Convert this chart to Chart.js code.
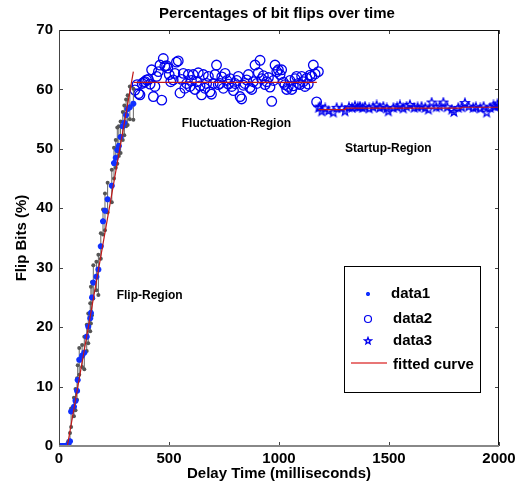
<!DOCTYPE html>
<html>
<head>
<meta charset="utf-8">
<script src="https://cdn.jsdelivr.net/npm/chart.js@4.4.1/dist/chart.umd.min.js"></script>
<style>
html, body { margin: 0; padding: 0; background: #fff; }
</style>
</head>
<body>
<canvas id="chart" width="521" height="487"></canvas>
<script>
const chartTitle = 'Percentages of bit flips over time';
const xTitle = 'Delay Time (milliseconds)';
const yTitle = 'Flip Bits (%)';

// data1: flip region (mean with min/max bars)
const flipX = [0, 8, 16, 24, 32, 42, 50, 55, 68, 75, 82, 85, 92, 105, 115, 126, 133, 142, 145, 150,
    156, 170, 179, 190, 200, 209, 221, 240, 250, 258, 265, 272, 280, 290, 297, 305, 312, 322, 338];
const flipY = [0, 0, 0, 0, 0, 0.3, 0.8, 5.8, 6.6, 7.6, 9.3, 11.1, 14.5, 15.2, 15.7, 18.4, 20.1, 21.5, 22.4, 25.0,
    27.5, 28.5, 29.7, 33.6, 37.8, 39.6, 41.5, 43.8, 47.6, 48.5, 49.8, 50.5, 52.0, 53.8, 54.4, 55.7, 56.7, 57.0, 57.6];
const flipLow = [0, 0, 0, 0, 0, 0, 0, 3.2, 5.0, 6.0, 7.8, 9.2, 12.0, 13.3, 12.9, 16.0, 17.3, 19.3, 20.6, 22.0,
    24.8, 26.2, 25.4, 31.5, 35.6, 36.3, 39.3, 41.0, 45.0, 46.8, 47.5, 48.8, 49.3, 51.5, 52.3, 53.8, 54.0, 55.0, 54.9];
const flipHigh = [0, 0, 0, 0, 0, 0.8, 2.2, 6.3, 8.1, 9.6, 11.4, 13.6, 16.5, 17.0, 18.4, 20.4, 22.3, 24.0, 26.8, 27.6,
    30.4, 31.0, 32.2, 35.8, 39.8, 42.5, 44.3, 46.5, 50.2, 51.5, 53.6, 53.8, 54.6, 56.2, 57.3, 58.3, 59.0, 60.5, 60.1];

// data2: fluctuation region
const fluctX = [345, 355, 362, 368, 378, 385, 391, 398, 406, 414, 421, 429, 436, 444, 452, 459, 467, 474, 481, 489,
    495, 501, 508, 519, 527, 534, 542, 550, 557, 565, 572, 580, 588, 595, 602, 610, 618, 626, 633, 641,
    648, 656, 663, 671, 679, 686, 693, 701, 709, 716, 724, 732, 740, 747, 755, 763, 770, 778, 785, 793,
    800, 808, 815, 823, 830, 838, 845, 853, 861, 868, 876, 883, 891, 899, 906, 914, 921, 929, 937, 944,
    952, 959, 967, 975, 982, 990, 997, 1005, 1012, 1020, 1027, 1035, 1042, 1050, 1058, 1065, 1073, 1080, 1088, 1095,
    1103, 1110, 1118, 1126, 1133, 1141, 1149, 1156, 1164, 1171, 1179];
const fluctY = [59.9, 60.8, 59.3, 59.1, 61.0, 61.2, 61.3, 61.6, 61.7, 60.9, 63.3, 58.8, 60.5, 62.2, 63.0, 64.1, 58.2, 65.2, 63.9, 64.0,
    63.6, 62.5, 61.3, 61.6, 62.7, 64.6, 64.8, 59.4, 61.7, 62.7, 60.2, 61.0, 62.5, 60.5, 61.5, 62.5, 60.0, 61.3, 62.8, 60.6,
    59.1, 62.5, 60.2, 61.0, 62.2, 59.6, 59.2, 61.0, 62.5, 64.1, 60.8, 61.0, 62.1, 60.2, 62.7, 61.5, 60.9, 61.8, 60.5, 59.8,
    61.0, 61.5, 62.2, 58.8, 58.4, 60.7, 61.0, 61.6, 62.5, 60.3, 60.0, 61.3, 64.1, 61.0, 62.8, 64.9, 61.8, 62.3, 60.8, 61.3,
    62.0, 60.4, 58.0, 61.5, 64.1, 63.0, 63.3, 62.5, 63.3, 61.2, 60.8, 60.0, 60.5, 61.5, 60.0, 60.6, 61.8, 62.2, 61.0, 60.8,
    62.2, 61.3, 60.5, 61.9, 60.9, 62.4, 62.2, 64.1, 62.6, 57.9, 63.0];

// data3: startup region
const startX = [1180, 1186, 1194, 1210, 1225, 1247, 1262, 1285, 1300, 1318, 1332, 1345, 1358, 1368, 1380, 1391, 1410, 1428,
    1444, 1458, 1474, 1490, 1497, 1520, 1537, 1550, 1565, 1580, 1595, 1615, 1630, 1648, 1665, 1679, 1694, 1715,
    1730, 1747, 1765, 1785, 1795, 1815, 1830, 1845, 1862, 1883, 1895, 1915, 1930, 1944, 1960, 1975, 1982, 1993, 1997];
const startY = [56.9, 57.1, 56.3, 56.8, 56.4, 56.1, 56.9, 56.85, 56.3, 57.0, 56.9, 57.2, 57.0, 57.1, 56.9, 57.1, 56.8, 57.0,
    57.3, 56.9, 57.1, 56.8, 56.3, 56.9, 57.0, 57.3, 56.8, 57.1, 57.4, 56.9, 57.0, 57.1, 56.9, 56.6, 57.8, 57.0,
    57.1, 57.8, 57.0, 56.6, 56.2, 56.9, 57.0, 57.7, 57.1, 56.9, 57.0, 56.8, 57.1, 56.1, 56.9, 57.3, 57.1, 57.5, 57.2];

// fitted curve, null breaks the segments
const fitX = [0, 38, 338, null, 340, 1172, null, 1180, 1300, 1302, 1830, 1832, 2000];
const fitY = [0, 0, 63.0, null, 61.2, 61.2, null, 56.6, 56.6, 56.85, 56.85, 57.0, 57.0];

const regionLabels = ['Flip-Region', 'Fluctuation-Region', 'Startup-Region'];
const regionX = [262, 558, 1300];
const regionY = [25.3, 54.2, 50.0];

const FONT = 'Arial, "Liberation Sans", sans-serif';
const BLUE = '#0000ee';
const FIT_RED = '#c01818';

function makeStar(r, color) {
    const size = Math.ceil(r * 2 + 3);
    const c = document.createElement('canvas');
    c.width = size;
    c.height = size;
    const g = c.getContext('2d');
    g.strokeStyle = color;
    g.lineWidth = 1.3;
    g.beginPath();
    for (let i = 0; i < 10; i++) {
        const rad = i % 2 === 0 ? r : r * 0.42;
        const a = -Math.PI / 2 + i * Math.PI / 5;
        const px = size / 2 + rad * Math.cos(a);
        const py = size / 2 + rad * Math.sin(a);
        if (i === 0) g.moveTo(px, py); else g.lineTo(px, py);
    }
    g.closePath();
    g.stroke();
    return c;
}
const starImg = makeStar(4.5, BLUE);
const starSmall = makeStar(3.5, BLUE);

function toPoints(xs, ys) {
    return xs.map(function (x, i) { return { x: x, y: ys[i] }; });
}

// error bars as a broken line: low, high, gap
const errorPoints = [];
flipX.forEach(function (x, i) {
    if (flipHigh[i] - flipLow[i] < 0.5) return;
    errorPoints.push({ x: x, y: flipLow[i] }, { x: x, y: flipHigh[i] }, { x: x, y: null });
});

const fitPoints = fitX.map(function (x, i) { return { x: x === null ? fitX[i - 1] : x, y: fitY[i] }; });

const matlabFrame = {
    id: 'matlabFrame',
    afterDraw(chart) {
        const { ctx, chartArea: a, scales } = chart;
        const x = scales.x, y = scales.y;
        ctx.save();

        // inward ticks
        ctx.strokeStyle = '#444';
        ctx.lineWidth = 1;
        ctx.beginPath();
        x.ticks.forEach(function (t) {
            const px = Math.round(x.getPixelForValue(t.value)) + 0.5;
            ctx.moveTo(px, a.bottom); ctx.lineTo(px, a.bottom - 4);
            ctx.moveTo(px, a.top); ctx.lineTo(px, a.top + 4);
        });
        y.ticks.forEach(function (t) {
            const py = Math.round(y.getPixelForValue(t.value)) + 0.5;
            ctx.moveTo(a.left, py); ctx.lineTo(a.left + 4, py);
            ctx.moveTo(a.right, py); ctx.lineTo(a.right - 4, py);
        });
        ctx.stroke();

        // axes box
        ctx.lineWidth = 1;
        ctx.strokeStyle = '#111';
        ctx.beginPath();
        ctx.moveTo(a.left, a.top + 0.5); ctx.lineTo(a.right, a.top + 0.5);
        ctx.moveTo(a.right - 0.5, a.top); ctx.lineTo(a.right - 0.5, a.bottom);
        ctx.stroke();
        ctx.strokeStyle = '#444';
        ctx.beginPath();
        ctx.moveTo(a.left + 0.5, a.top); ctx.lineTo(a.left + 0.5, a.bottom);
        ctx.stroke();
        ctx.strokeStyle = '#888';
        ctx.lineWidth = 2;
        ctx.beginPath();
        ctx.moveTo(a.left, a.bottom); ctx.lineTo(a.right, a.bottom);
        ctx.stroke();

        // title
        ctx.fillStyle = '#000';
        ctx.font = 'bold 15px ' + FONT;
        ctx.textAlign = 'center';
        ctx.textBaseline = 'middle';
        ctx.fillText(chartTitle, 277, 14);

        // region labels
        ctx.font = 'bold 12px ' + FONT;
        ctx.textAlign = 'left';
        regionLabels.forEach(function (txt, i) {
            ctx.fillText(txt, x.getPixelForValue(regionX[i]), y.getPixelForValue(regionY[i]));
        });

        // legend box
        const lx = 344, ly = 266, lw = 136, lh = 126;
        ctx.fillStyle = '#fff';
        ctx.fillRect(lx, ly, lw, lh);
        ctx.strokeStyle = '#000';
        ctx.lineWidth = 1;
        ctx.strokeRect(lx + 0.5, ly + 0.5, lw, lh);

        const rowY = [294, 319, 341, 365];
        const labels = ['data1', 'data2', 'data3', 'fitted curve'];
        // data1 marker
        ctx.strokeStyle = '#1030ff';
        ctx.fillStyle = '#1030ff';
        ctx.lineWidth = 1.5;
        Chart.helpers.drawPoint(ctx, { pointStyle: 'star', rotation: 0, radius: 2, borderWidth: 1.5 }, 368, rowY[0]);
        // data2 marker
        ctx.strokeStyle = BLUE;
        ctx.lineWidth = 1.2;
        ctx.beginPath();
        ctx.arc(368, rowY[1], 3.5, 0, Math.PI * 2);
        ctx.stroke();
        // data3 marker
        ctx.drawImage(starSmall, 368 - starSmall.width / 2, rowY[2] - starSmall.height / 2);
        // fitted curve
        ctx.strokeStyle = '#e04848';
        ctx.lineWidth = 1.4;
        ctx.beginPath();
        ctx.moveTo(351, rowY[3] - 2); ctx.lineTo(387, rowY[3] - 2);
        ctx.stroke();

        ctx.font = 'bold 15px ' + FONT;
        ctx.fillStyle = '#000';
        ctx.textAlign = 'left';
        ctx.textBaseline = 'middle';
        labels.forEach(function (txt, i) {
            ctx.fillText(txt, i === 0 ? 391 : 393, rowY[i]);
        });
        ctx.restore();
    }
};

new Chart(document.getElementById('chart'), {
    type: 'scatter',
    data: {
        datasets: [
            {
                label: 'fitted curve',
                data: fitPoints,
                showLine: true,
                spanGaps: false,
                borderColor: FIT_RED,
                borderWidth: 1.2,
                pointRadius: 0,
                order: 0
            },
            {
                label: 'data1',
                data: toPoints(flipX, flipY),
                pointStyle: 'star',
                pointRadius: 3,
                pointBorderWidth: 2,
                pointBorderColor: '#1030ff',
                pointBackgroundColor: '#1030ff',
                order: 1
            },
            {
                label: 'data2',
                data: toPoints(fluctX, fluctY),
                pointStyle: 'circle',
                pointRadius: 4.8,
                pointBorderWidth: 1.3,
                pointBorderColor: BLUE,
                pointBackgroundColor: 'rgba(0,0,0,0)',
                order: 3
            },
            {
                label: 'data3',
                data: toPoints(startX, startY),
                pointStyle: starImg,
                pointRadius: 4.5,
                order: 3
            },
            {
                label: 'errors',
                data: errorPoints,
                showLine: true,
                spanGaps: false,
                borderColor: '#666',
                borderWidth: 1,
                pointStyle: 'circle',
                pointRadius: 2,
                pointBorderWidth: 0,
                pointBackgroundColor: '#555',
                order: 2
            }
        ]
    },
    options: {
        responsive: false,
        animation: false,
        layout: { padding: { top: 30, right: 22, left: 0, bottom: 0 } },
        plugins: {
            legend: { display: false },
            title: { display: false },
            tooltip: { enabled: false }
        },
        scales: {
            x: {
                type: 'linear',
                min: 0,
                max: 2000,
                grid: { display: false, drawTicks: false },
                border: { display: false },
                ticks: {
                    stepSize: 500,
                    padding: 4,
                    maxRotation: 0,
                    color: '#000',
                    font: { family: FONT, size: 15, weight: 'bold' },
                    callback: function (v) { return String(v); }
                },
                title: {
                    display: true,
                    text: xTitle,
                    color: '#000',
                    padding: { top: 0, bottom: 4 },
                    font: { family: FONT, size: 15, weight: 'bold' }
                },
                afterFit: function (s) { s.height = 41; }
            },
            y: {
                min: 0,
                max: 70,
                grid: { display: false, drawTicks: false },
                border: { display: false },
                ticks: {
                    stepSize: 10,
                    padding: 6,
                    color: '#000',
                    font: { family: FONT, size: 15, weight: 'bold' },
                    callback: function (v) { return String(v); }
                },
                title: {
                    display: true,
                    text: yTitle,
                    color: '#000',
                    padding: { top: 13, bottom: 0 },
                    font: { family: FONT, size: 15, weight: 'bold' }
                },
                afterFit: function (s) { s.width = 59; }
            }
        }
    },
    plugins: [matlabFrame]
});
</script>
</body>
</html>
